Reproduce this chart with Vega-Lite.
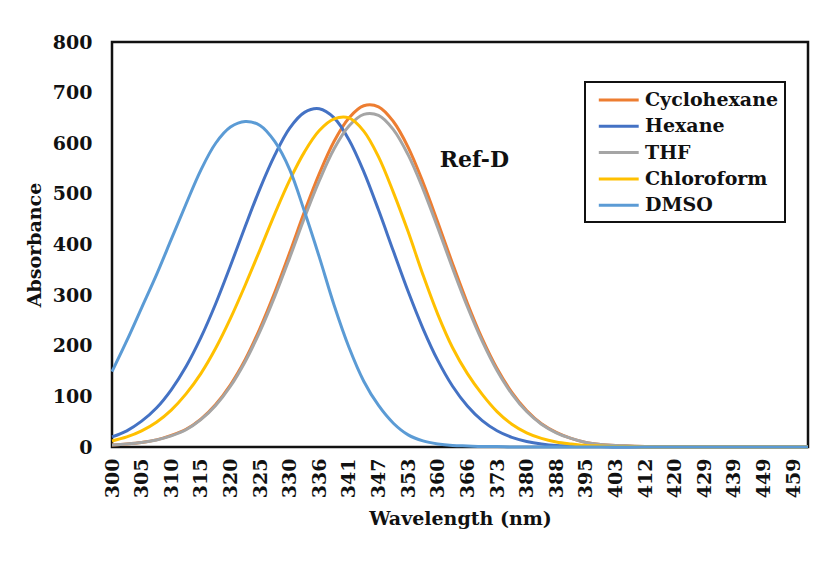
{
  "$schema": "https://vega.github.io/schema/vega-lite/v6.json",
  "width": 696,
  "height": 405,
  "autosize": {"type": "none"},
  "padding": {"left": 112, "top": 42, "right": 15, "bottom": 124},
  "background": "white",
  "config": {
    "view": {"stroke": "#111111", "strokeWidth": 2.5},
    "font": "DejaVu Serif",
    "axis": {
      "labelFont": "DejaVu Serif", "labelFontWeight": "bold", "labelFontSize": 19, "labelColor": "#111111",
      "titleFont": "DejaVu Serif", "titleFontWeight": "bold", "titleFontSize": 19, "titleColor": "#111111",
      "grid": false, "ticks": false, "domain": false, "labelOverlap": false
    }
  },
  "layer": [
    {
      "data": {"values": [
        {"wavelength":300,"solvent":"Cyclohexane","absorbance":4},{"wavelength":302,"solvent":"Cyclohexane","absorbance":6},{"wavelength":305,"solvent":"Cyclohexane","absorbance":9},{"wavelength":307,"solvent":"Cyclohexane","absorbance":14},{"wavelength":310,"solvent":"Cyclohexane","absorbance":23},{"wavelength":312,"solvent":"Cyclohexane","absorbance":35},{"wavelength":315,"solvent":"Cyclohexane","absorbance":55},{"wavelength":317,"solvent":"Cyclohexane","absorbance":84},{"wavelength":320,"solvent":"Cyclohexane","absorbance":123},{"wavelength":322,"solvent":"Cyclohexane","absorbance":173},{"wavelength":325,"solvent":"Cyclohexane","absorbance":235},{"wavelength":327,"solvent":"Cyclohexane","absorbance":306},{"wavelength":330,"solvent":"Cyclohexane","absorbance":384},{"wavelength":333,"solvent":"Cyclohexane","absorbance":465},{"wavelength":336,"solvent":"Cyclohexane","absorbance":540},{"wavelength":338,"solvent":"Cyclohexane","absorbance":604},{"wavelength":341,"solvent":"Cyclohexane","absorbance":650},{"wavelength":344,"solvent":"Cyclohexane","absorbance":674},{"wavelength":347,"solvent":"Cyclohexane","absorbance":672},{"wavelength":350,"solvent":"Cyclohexane","absorbance":643},{"wavelength":353,"solvent":"Cyclohexane","absorbance":592},{"wavelength":356,"solvent":"Cyclohexane","absorbance":523},{"wavelength":360,"solvent":"Cyclohexane","absorbance":444},{"wavelength":363,"solvent":"Cyclohexane","absorbance":362},{"wavelength":366,"solvent":"Cyclohexane","absorbance":284},{"wavelength":369,"solvent":"Cyclohexane","absorbance":214},{"wavelength":373,"solvent":"Cyclohexane","absorbance":155},{"wavelength":376,"solvent":"Cyclohexane","absorbance":108},{"wavelength":380,"solvent":"Cyclohexane","absorbance":72},{"wavelength":384,"solvent":"Cyclohexane","absorbance":46},{"wavelength":388,"solvent":"Cyclohexane","absorbance":29},{"wavelength":391,"solvent":"Cyclohexane","absorbance":17},{"wavelength":395,"solvent":"Cyclohexane","absorbance":9},{"wavelength":399,"solvent":"Cyclohexane","absorbance":5},{"wavelength":403,"solvent":"Cyclohexane","absorbance":3},{"wavelength":407,"solvent":"Cyclohexane","absorbance":2},{"wavelength":412,"solvent":"Cyclohexane","absorbance":1},{"wavelength":416,"solvent":"Cyclohexane","absorbance":0},{"wavelength":420,"solvent":"Cyclohexane","absorbance":0},{"wavelength":425,"solvent":"Cyclohexane","absorbance":0},{"wavelength":429,"solvent":"Cyclohexane","absorbance":0},{"wavelength":434,"solvent":"Cyclohexane","absorbance":0},{"wavelength":439,"solvent":"Cyclohexane","absorbance":0},{"wavelength":444,"solvent":"Cyclohexane","absorbance":0},{"wavelength":449,"solvent":"Cyclohexane","absorbance":0},{"wavelength":454,"solvent":"Cyclohexane","absorbance":0},{"wavelength":459,"solvent":"Cyclohexane","absorbance":0},{"wavelength":464,"solvent":"Cyclohexane","absorbance":0},
        {"wavelength":300,"solvent":"Hexane","absorbance":20},{"wavelength":302,"solvent":"Hexane","absorbance":32},{"wavelength":305,"solvent":"Hexane","absorbance":51},{"wavelength":307,"solvent":"Hexane","absorbance":77},{"wavelength":310,"solvent":"Hexane","absorbance":113},{"wavelength":312,"solvent":"Hexane","absorbance":159},{"wavelength":315,"solvent":"Hexane","absorbance":216},{"wavelength":317,"solvent":"Hexane","absorbance":283},{"wavelength":320,"solvent":"Hexane","absorbance":358},{"wavelength":322,"solvent":"Hexane","absorbance":436},{"wavelength":325,"solvent":"Hexane","absorbance":511},{"wavelength":327,"solvent":"Hexane","absorbance":577},{"wavelength":330,"solvent":"Hexane","absorbance":630},{"wavelength":333,"solvent":"Hexane","absorbance":661},{"wavelength":336,"solvent":"Hexane","absorbance":668},{"wavelength":338,"solvent":"Hexane","absorbance":650},{"wavelength":341,"solvent":"Hexane","absorbance":607},{"wavelength":344,"solvent":"Hexane","absorbance":544},{"wavelength":347,"solvent":"Hexane","absorbance":468},{"wavelength":350,"solvent":"Hexane","absorbance":387},{"wavelength":353,"solvent":"Hexane","absorbance":307},{"wavelength":356,"solvent":"Hexane","absorbance":234},{"wavelength":360,"solvent":"Hexane","absorbance":171},{"wavelength":363,"solvent":"Hexane","absorbance":120},{"wavelength":366,"solvent":"Hexane","absorbance":81},{"wavelength":369,"solvent":"Hexane","absorbance":52},{"wavelength":373,"solvent":"Hexane","absorbance":32},{"wavelength":376,"solvent":"Hexane","absorbance":19},{"wavelength":380,"solvent":"Hexane","absorbance":11},{"wavelength":384,"solvent":"Hexane","absorbance":6},{"wavelength":388,"solvent":"Hexane","absorbance":3},{"wavelength":391,"solvent":"Hexane","absorbance":2},{"wavelength":395,"solvent":"Hexane","absorbance":1},{"wavelength":399,"solvent":"Hexane","absorbance":1},{"wavelength":403,"solvent":"Hexane","absorbance":0},{"wavelength":407,"solvent":"Hexane","absorbance":0},{"wavelength":412,"solvent":"Hexane","absorbance":0},{"wavelength":416,"solvent":"Hexane","absorbance":0},{"wavelength":420,"solvent":"Hexane","absorbance":0},{"wavelength":425,"solvent":"Hexane","absorbance":0},{"wavelength":429,"solvent":"Hexane","absorbance":0},{"wavelength":434,"solvent":"Hexane","absorbance":0},{"wavelength":439,"solvent":"Hexane","absorbance":0},{"wavelength":444,"solvent":"Hexane","absorbance":0},{"wavelength":449,"solvent":"Hexane","absorbance":0},{"wavelength":454,"solvent":"Hexane","absorbance":0},{"wavelength":459,"solvent":"Hexane","absorbance":0},{"wavelength":464,"solvent":"Hexane","absorbance":0},
        {"wavelength":300,"solvent":"THF","absorbance":4},{"wavelength":302,"solvent":"THF","absorbance":6},{"wavelength":305,"solvent":"THF","absorbance":9},{"wavelength":307,"solvent":"THF","absorbance":14},{"wavelength":310,"solvent":"THF","absorbance":22},{"wavelength":312,"solvent":"THF","absorbance":34},{"wavelength":315,"solvent":"THF","absorbance":54},{"wavelength":317,"solvent":"THF","absorbance":82},{"wavelength":320,"solvent":"THF","absorbance":120},{"wavelength":322,"solvent":"THF","absorbance":169},{"wavelength":325,"solvent":"THF","absorbance":229},{"wavelength":327,"solvent":"THF","absorbance":298},{"wavelength":330,"solvent":"THF","absorbance":374},{"wavelength":333,"solvent":"THF","absorbance":453},{"wavelength":336,"solvent":"THF","absorbance":526},{"wavelength":338,"solvent":"THF","absorbance":589},{"wavelength":341,"solvent":"THF","absorbance":634},{"wavelength":344,"solvent":"THF","absorbance":657},{"wavelength":347,"solvent":"THF","absorbance":655},{"wavelength":350,"solvent":"THF","absorbance":627},{"wavelength":353,"solvent":"THF","absorbance":577},{"wavelength":356,"solvent":"THF","absorbance":510},{"wavelength":360,"solvent":"THF","absorbance":433},{"wavelength":363,"solvent":"THF","absorbance":353},{"wavelength":366,"solvent":"THF","absorbance":277},{"wavelength":369,"solvent":"THF","absorbance":209},{"wavelength":373,"solvent":"THF","absorbance":151},{"wavelength":376,"solvent":"THF","absorbance":105},{"wavelength":380,"solvent":"THF","absorbance":70},{"wavelength":384,"solvent":"THF","absorbance":45},{"wavelength":388,"solvent":"THF","absorbance":28},{"wavelength":391,"solvent":"THF","absorbance":17},{"wavelength":395,"solvent":"THF","absorbance":9},{"wavelength":399,"solvent":"THF","absorbance":5},{"wavelength":403,"solvent":"THF","absorbance":3},{"wavelength":407,"solvent":"THF","absorbance":2},{"wavelength":412,"solvent":"THF","absorbance":1},{"wavelength":416,"solvent":"THF","absorbance":0},{"wavelength":420,"solvent":"THF","absorbance":0},{"wavelength":425,"solvent":"THF","absorbance":0},{"wavelength":429,"solvent":"THF","absorbance":0},{"wavelength":434,"solvent":"THF","absorbance":0},{"wavelength":439,"solvent":"THF","absorbance":0},{"wavelength":444,"solvent":"THF","absorbance":0},{"wavelength":449,"solvent":"THF","absorbance":0},{"wavelength":454,"solvent":"THF","absorbance":0},{"wavelength":459,"solvent":"THF","absorbance":0},{"wavelength":464,"solvent":"THF","absorbance":0},
        {"wavelength":300,"solvent":"Chloroform","absorbance":12},{"wavelength":302,"solvent":"Chloroform","absorbance":20},{"wavelength":305,"solvent":"Chloroform","absorbance":32},{"wavelength":307,"solvent":"Chloroform","absorbance":49},{"wavelength":310,"solvent":"Chloroform","absorbance":73},{"wavelength":312,"solvent":"Chloroform","absorbance":105},{"wavelength":315,"solvent":"Chloroform","absorbance":145},{"wavelength":317,"solvent":"Chloroform","absorbance":195},{"wavelength":320,"solvent":"Chloroform","absorbance":254},{"wavelength":322,"solvent":"Chloroform","absorbance":320},{"wavelength":325,"solvent":"Chloroform","absorbance":390},{"wavelength":327,"solvent":"Chloroform","absorbance":461},{"wavelength":330,"solvent":"Chloroform","absorbance":527},{"wavelength":333,"solvent":"Chloroform","absorbance":583},{"wavelength":336,"solvent":"Chloroform","absorbance":625},{"wavelength":338,"solvent":"Chloroform","absorbance":648},{"wavelength":341,"solvent":"Chloroform","absorbance":650},{"wavelength":344,"solvent":"Chloroform","absorbance":624},{"wavelength":347,"solvent":"Chloroform","absorbance":573},{"wavelength":350,"solvent":"Chloroform","absorbance":503},{"wavelength":353,"solvent":"Chloroform","absorbance":425},{"wavelength":356,"solvent":"Chloroform","absorbance":340},{"wavelength":360,"solvent":"Chloroform","absorbance":262},{"wavelength":363,"solvent":"Chloroform","absorbance":196},{"wavelength":366,"solvent":"Chloroform","absorbance":145},{"wavelength":369,"solvent":"Chloroform","absorbance":104},{"wavelength":373,"solvent":"Chloroform","absorbance":70},{"wavelength":376,"solvent":"Chloroform","absorbance":45},{"wavelength":380,"solvent":"Chloroform","absorbance":28},{"wavelength":384,"solvent":"Chloroform","absorbance":17},{"wavelength":388,"solvent":"Chloroform","absorbance":10},{"wavelength":391,"solvent":"Chloroform","absorbance":6},{"wavelength":395,"solvent":"Chloroform","absorbance":3},{"wavelength":399,"solvent":"Chloroform","absorbance":2},{"wavelength":403,"solvent":"Chloroform","absorbance":1},{"wavelength":407,"solvent":"Chloroform","absorbance":1},{"wavelength":412,"solvent":"Chloroform","absorbance":0},{"wavelength":416,"solvent":"Chloroform","absorbance":0},{"wavelength":420,"solvent":"Chloroform","absorbance":0},{"wavelength":425,"solvent":"Chloroform","absorbance":0},{"wavelength":429,"solvent":"Chloroform","absorbance":0},{"wavelength":434,"solvent":"Chloroform","absorbance":0},{"wavelength":439,"solvent":"Chloroform","absorbance":0},{"wavelength":444,"solvent":"Chloroform","absorbance":0},{"wavelength":449,"solvent":"Chloroform","absorbance":0},{"wavelength":454,"solvent":"Chloroform","absorbance":0},{"wavelength":459,"solvent":"Chloroform","absorbance":0},{"wavelength":464,"solvent":"Chloroform","absorbance":0},
        {"wavelength":300,"solvent":"DMSO","absorbance":149},{"wavelength":302,"solvent":"DMSO","absorbance":210},{"wavelength":305,"solvent":"DMSO","absorbance":275},{"wavelength":307,"solvent":"DMSO","absorbance":340},{"wavelength":310,"solvent":"DMSO","absorbance":410},{"wavelength":312,"solvent":"DMSO","absorbance":480},{"wavelength":315,"solvent":"DMSO","absorbance":547},{"wavelength":317,"solvent":"DMSO","absorbance":600},{"wavelength":320,"solvent":"DMSO","absorbance":632},{"wavelength":322,"solvent":"DMSO","absorbance":643},{"wavelength":325,"solvent":"DMSO","absorbance":635},{"wavelength":327,"solvent":"DMSO","absorbance":603},{"wavelength":330,"solvent":"DMSO","absorbance":548},{"wavelength":333,"solvent":"DMSO","absorbance":465},{"wavelength":336,"solvent":"DMSO","absorbance":375},{"wavelength":338,"solvent":"DMSO","absorbance":280},{"wavelength":341,"solvent":"DMSO","absorbance":197},{"wavelength":344,"solvent":"DMSO","absorbance":130},{"wavelength":347,"solvent":"DMSO","absorbance":82},{"wavelength":350,"solvent":"DMSO","absorbance":47},{"wavelength":353,"solvent":"DMSO","absorbance":24},{"wavelength":356,"solvent":"DMSO","absorbance":12},{"wavelength":360,"solvent":"DMSO","absorbance":6},{"wavelength":363,"solvent":"DMSO","absorbance":3},{"wavelength":366,"solvent":"DMSO","absorbance":2},{"wavelength":369,"solvent":"DMSO","absorbance":1},{"wavelength":373,"solvent":"DMSO","absorbance":1},{"wavelength":376,"solvent":"DMSO","absorbance":0},{"wavelength":380,"solvent":"DMSO","absorbance":0},{"wavelength":384,"solvent":"DMSO","absorbance":0},{"wavelength":388,"solvent":"DMSO","absorbance":0},{"wavelength":391,"solvent":"DMSO","absorbance":0},{"wavelength":395,"solvent":"DMSO","absorbance":0},{"wavelength":399,"solvent":"DMSO","absorbance":0},{"wavelength":403,"solvent":"DMSO","absorbance":0},{"wavelength":407,"solvent":"DMSO","absorbance":0},{"wavelength":412,"solvent":"DMSO","absorbance":0},{"wavelength":416,"solvent":"DMSO","absorbance":0},{"wavelength":420,"solvent":"DMSO","absorbance":0},{"wavelength":425,"solvent":"DMSO","absorbance":0},{"wavelength":429,"solvent":"DMSO","absorbance":0},{"wavelength":434,"solvent":"DMSO","absorbance":0},{"wavelength":439,"solvent":"DMSO","absorbance":0},{"wavelength":444,"solvent":"DMSO","absorbance":0},{"wavelength":449,"solvent":"DMSO","absorbance":0},{"wavelength":454,"solvent":"DMSO","absorbance":0},{"wavelength":459,"solvent":"DMSO","absorbance":0},{"wavelength":464,"solvent":"DMSO","absorbance":0}
      ]},
      "mark": {"type": "line", "strokeWidth": 3, "interpolate": "catmull-rom"},
      "encoding": {
        "x": {
          "field": "wavelength", "type": "ordinal",
          "scale": {"type": "point", "padding": 0},
          "axis": {
            "title": "Wavelength (nm)",
            "values": [300,305,310,315,320,325,330,336,341,347,353,360,366,373,380,388,395,403,412,420,429,439,449,459],
            "labelAngle": -90, "labelPadding": 11, "titlePadding": 12
          }
        },
        "y": {
          "field": "absorbance", "type": "quantitative",
          "scale": {"domain": [0, 800], "nice": false},
          "axis": {"title": "Absorbance", "values": [0,100,200,300,400,500,600,700,800], "labelPadding": 20, "titlePadding": 8}
        },
        "color": {
          "field": "solvent", "type": "nominal",
          "scale": {
            "domain": ["Cyclohexane", "Hexane", "THF", "Chloroform", "DMSO"],
            "range": ["#ED7D31", "#4472C4", "#A5A5A5", "#FFC000", "#5B9BD5"]
          },
          "legend": {
            "title": null, "orient": "none", "legendX": 473, "legendY": 40,
            "strokeColor": "#111111", "fillColor": "white", "padding": 6,
            "labelFont": "DejaVu Serif", "labelFontWeight": "bold", "labelFontSize": 19, "labelColor": "#111111",
            "symbolType": "M-0.4,0H3.4", "symbolSize": 441, "symbolStrokeWidth": 3,
            "labelOffset": 30, "rowPadding": 4.3,
            "encode": {"legend": {"update": {"strokeWidth": {"value": 2}}}}
          }
        }
      }
    },
    {
      "data": {"values": [{"note": "Ref-D"}]},
      "mark": {"type": "text", "font": "DejaVu Serif", "fontWeight": "bold", "fontSize": 22, "color": "#111111", "align": "center", "baseline": "middle", "dx": 7},
      "encoding": {
        "x": {"datum": 366, "type": "ordinal"},
        "y": {"datum": 567, "type": "quantitative"},
        "text": {"field": "note"}
      }
    }
  ]
}
